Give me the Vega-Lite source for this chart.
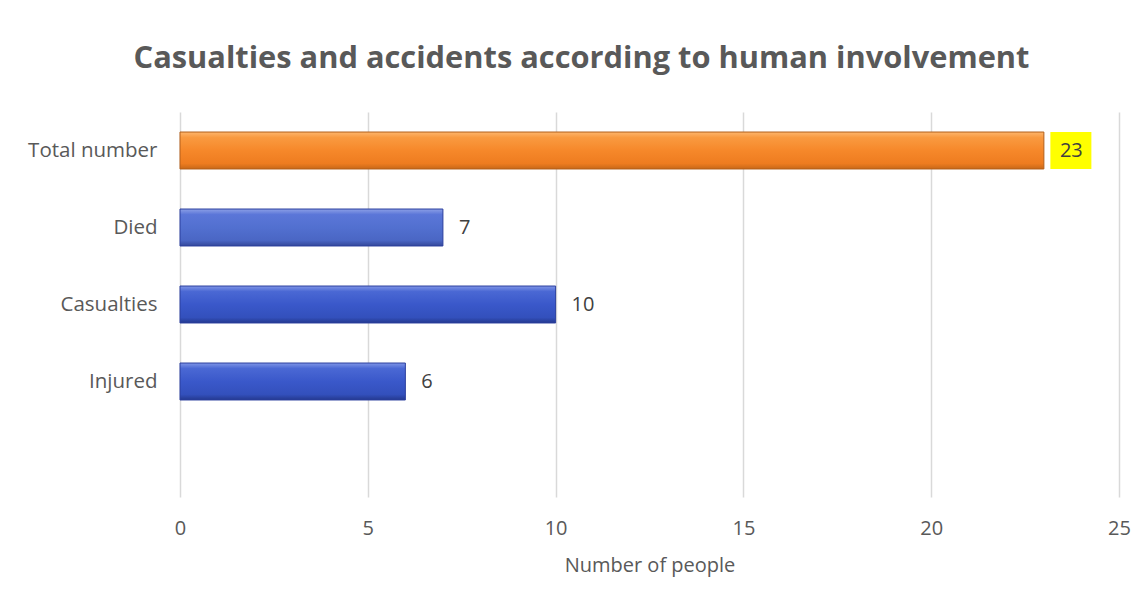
{
  "$schema": "https://vega.github.io/schema/vega-lite/v6.json",
  "autosize": "none",
  "width": 939,
  "height": 385,
  "padding": {"left": 180, "top": 112, "right": 28, "bottom": 107},
  "background": "white",
  "config": {"view": {"stroke": null}, "font": "Open Sans"},
  "title": {
    "text": "Casualties and accidents according to human involvement",
    "fontSize": 30.8,
    "fontWeight": "bold",
    "font": "Open Sans",
    "color": "#595959",
    "anchor": "middle",
    "baseline": "alphabetic",
    "offset": 13,
    "dx": -68
  },
  "data": {
    "values": [
      {"category": "Total number", "value": 23},
      {"category": "Died", "value": 7},
      {"category": "Casualties", "value": 10},
      {"category": "Injured", "value": 6}
    ]
  },
  "encoding": {
    "y": {
      "field": "category",
      "type": "nominal",
      "sort": null,
      "scale": {"domain": ["Total number", "Died", "Casualties", "Injured", " "], "paddingInner": 0.52, "paddingOuter": 0.26},
      "axis": {"title": null, "ticks": false, "domain": false, "labelFontSize": 20.5, "labelColor": "#595959", "labelPadding": 23, "labelFont": "Open Sans"}
    },
    "x": {
      "field": "value",
      "type": "quantitative",
      "scale": {"domain": [0, 25], "nice": false},
      "axis": {
        "values": [0, 5, 10, 15, 20, 25],
        "title": "Number of people",
        "titleFontSize": 20,
        "titleFontWeight": "normal",
        "titleColor": "#595959",
        "titleFont": "Open Sans",
        "titlePadding": 17,
        "labelFontSize": 20,
        "labelColor": "#595959",
        "labelFont": "Open Sans",
        "labelPadding": 21,
        "labelFlush": false,
        "grid": true,
        "gridColor": "#D9D9D9",
        "gridWidth": 1.5,
        "domain": false,
        "ticks": false
      }
    }
  },
  "layer": [
    {
      "mark": {"type": "bar", "strokeWidth": 1},
      "encoding": {
        "fill": {
          "condition": [
            {"test": "datum.category === 'Total number'", "value": {"gradient": "linear", "x1": 0, "y1": 0, "x2": 0, "y2": 1, "stops": [
              {"offset": 0, "color": "#FDB56C"}, {"offset": 0.15, "color": "#F99A40"}, {"offset": 0.5, "color": "#F6882A"}, {"offset": 0.85, "color": "#EE7C20"}, {"offset": 1, "color": "#C86818"}]}},
            {"test": "datum.category === 'Died'", "value": {"gradient": "linear", "x1": 0, "y1": 0, "x2": 0, "y2": 1, "stops": [
              {"offset": 0, "color": "#8CA0E6"}, {"offset": 0.15, "color": "#5B76D8"}, {"offset": 0.5, "color": "#5270D0"}, {"offset": 0.85, "color": "#4A66C4"}, {"offset": 1, "color": "#34489A"}]}}
          ],
          "value": {"gradient": "linear", "x1": 0, "y1": 0, "x2": 0, "y2": 1, "stops": [
            {"offset": 0, "color": "#7F95E6"}, {"offset": 0.15, "color": "#4A68D4"}, {"offset": 0.5, "color": "#3A58CA"}, {"offset": 0.85, "color": "#3350BC"}, {"offset": 1, "color": "#24398F"}]}
        },
        "stroke": {
          "condition": {"test": "datum.category === 'Total number'", "value": "#B35F1A"},
          "value": "#2B3F9E"
        }
      }
    },
    {
      "transform": [{"filter": "datum.category === 'Total number'"}],
      "mark": {"type": "point", "filled": true, "opacity": 1, "fill": "#FFFF00", "strokeWidth": 0, "shape": "M-1,-0.9L1,-0.9L1,0.9L-1,0.9Z", "size": 1681, "xOffset": 27}
    },
    {
      "mark": {"type": "text", "align": "left", "baseline": "middle", "dx": 16, "fontSize": 20, "font": "Open Sans", "color": "#404040"},
      "encoding": {"text": {"field": "value", "type": "quantitative"}}
    }
  ]
}
